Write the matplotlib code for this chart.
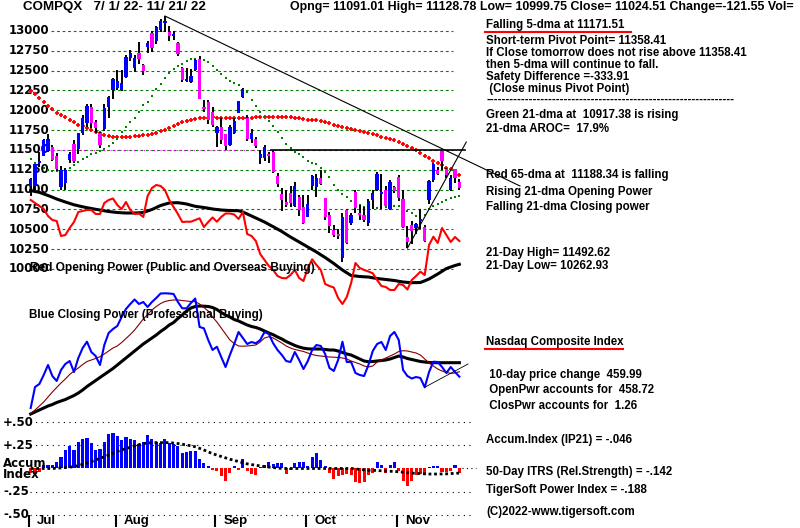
import numpy as np
import pandas as pd
import matplotlib
matplotlib.use('Agg')
import matplotlib.pyplot as plt
from matplotlib.lines import Line2D

W, H = 800, 528

# trading days 7/1/22 .. 11/21/22 (Jul 4 and Sep 5 closed)
days = pd.bdate_range('2022-07-01', '2022-11-21')
days = days[~days.isin(pd.to_datetime(['2022-07-04', '2022-09-05']))]

opens = [11050, 11040, 11335, 11430, 11490, 11540, 11420, 11030, 11080, 11375,
         11575, 11510, 11720, 11840, 12046, 11850, 11710, 11765, 12040, 12260,
         12280, 12250, 12424, 12656, 12530, 12727, 12570, 12800, 12970, 12880,
         13015, 13095, 12990, 12938, 12850, 12530, 12370, 12360, 12510, 12643,
         12045, 12108, 11983, 11720, 11793, 11700, 11560, 11720, 11965, 12170,
         11900, 11640, 11634, 11395, 11400, 11440, 11480, 11170, 10950, 10845,
         10952, 10800, 10910, 10785, 10660, 11040, 11030, 11143, 10890, 10680,
         10490, 10440, 10135, 10745, 10580, 10975, 10700, 10680, 10575, 10865,
         11000, 10950, 10996, 10750, 11030, 11160, 10887, 10405, 10555, 10512,
         10600, 10535, 10865, 11120, 11245, 11487, 11265, 11000, 11255, 11091.01]
highs = [11145, 11325, 11480, 11640, 11700, 11560, 11460, 11300, 11270, 11480,
         11620, 11720, 11935, 12080, 12085, 11880, 11730, 12080, 12180, 12410,
         12510, 12510, 12700, 12760, 12700, 12865, 12590, 12880, 13000, 13060,
         13150, 13185, 13060, 13000, 12860, 12540, 12530, 12520, 12650, 12690,
         12135, 12130, 12045, 11800, 11900, 11700, 11820, 11900, 12120, 12280,
         11940, 11760, 11660, 11500, 11560, 11470, 11500, 11210, 11025, 11000,
         11050, 11100, 10930, 10930, 10930, 11190, 11200, 11245, 10900, 10720,
         10560, 10500, 10700, 10760, 10700, 10995, 10810, 10780, 10880, 10990,
         11220, 11200, 11050, 11120, 11040, 11190, 10990, 10540, 10600, 10580,
         10750, 10560, 11120, 11330, 11290, 11492.62, 11270, 11180, 11260, 11128.78]
lows = [10925, 10985, 11280, 11420, 11470, 11355, 11230, 10990, 11000, 11330,
        11340, 11450, 11690, 11790, 11780, 11720, 11520, 11740, 11900, 12140,
        12250, 12240, 12410, 12620, 12480, 12590, 12450, 12720, 12730, 12840,
        12990, 12990, 12870, 12890, 12690, 12360, 12355, 12340, 12490, 12140,
        11985, 11830, 11795, 11540, 11580, 11495, 11550, 11700, 11960, 12150,
        11610, 11590, 11520, 11320, 11365, 11330, 11210, 11030, 10735, 10775,
        10780, 10780, 10670, 10570, 10650, 11000, 10910, 11060, 10620, 10450,
        10400, 10380, 10090, 10310, 10560, 10700, 10620, 10590, 10540, 10760,
        10980, 10760, 10790, 10740, 10960, 10860, 10520, 10262.93, 10320, 10440,
        10500, 10340, 10820, 11100, 11180, 11250, 11150, 10980, 11080, 10999.75]
closes = [11127.85, 11322.24, 11361.85, 11621.35, 11635.31, 11372.60, 11264.73, 11247.58, 11251.19, 11452.42,
          11360.05, 11713.15, 11897.65, 12059.61, 11834.11, 11782.67, 11562.58, 12032.42, 12162.59, 12390.69,
          12368.98, 12348.76, 12668.16, 12720.58, 12657.55, 12644.46, 12493.93, 12854.80, 12779.91, 13047.19,
          13128.05, 13102.55, 12938.12, 12965.34, 12705.22, 12381.57, 12381.30, 12431.53, 12639.27, 12141.71,
          12017.67, 11883.14, 11816.20, 11785.13, 11630.86, 11544.91, 11791.90, 11862.13, 12112.31, 12266.41,
          11633.57, 11719.68, 11552.36, 11448.40, 11535.02, 11425.05, 11220.19, 11066.81, 10867.93, 10802.92,
          10829.50, 11051.64, 10737.51, 10575.62, 10815.43, 11176.41, 11148.64, 11073.31, 10652.41, 10542.10,
          10426.19, 10417.10, 10649.15, 10321.39, 10675.80, 10772.40, 10680.51, 10614.84, 10859.72, 10952.61,
          11199.12, 10970.99, 10792.68, 11102.45, 10988.15, 10890.85, 10524.80, 10342.94, 10475.25, 10564.52,
          10616.20, 10353.17, 11114.15, 11323.33, 11196.22, 11358.41, 11183.66, 11144.96, 11146.06, 11024.51]

ma65 = [12245, 12205, 12160, 12110, 12060, 12015, 11972, 11940, 11910, 11878,
        11847, 11820, 11796, 11774, 11752, 11730, 11708, 11690, 11676, 11668,
        11664, 11663, 11664, 11667, 11670, 11676, 11683, 11692, 11702, 11716,
        11733, 11757, 11783, 11805, 11828, 11847, 11865, 11878, 11891, 11899,
        11906, 11908, 11910, 11906, 11903, 11900, 11897, 11897, 11897, 11900,
        11903, 11906, 11910, 11911, 11912, 11914, 11916, 11916, 11916, 11913,
        11910, 11903, 11897, 11890, 11884, 11878, 11872, 11860, 11847, 11834,
        11821, 11805, 11790, 11777, 11765, 11752, 11739, 11725, 11710, 11696,
        11683, 11667, 11651, 11635, 11620, 11598, 11575, 11550, 11525, 11494,
        11462, 11427, 11393, 11361, 11330, 11305, 11279, 11254, 11229, 11188]
ma21 = [11380, 11336, 11292, 11267, 11248, 11241, 11235, 11235, 11241, 11267,
        11311, 11352, 11380, 11412, 11443, 11468, 11487, 11512, 11550, 11588,
        11638, 11727, 11790, 11853, 11909, 11973, 12067, 12110, 12181, 12270,
        12330, 12410, 12470, 12520, 12555, 12590, 12620, 12643, 12650, 12650,
        12635, 12610, 12560, 12510, 12455, 12410, 12375, 12345, 12315, 12275,
        12230, 12125, 12050, 11975, 11915, 11865, 11800, 11730, 11650, 11575,
        11530, 11475, 11455, 11415, 11355, 11340, 11320, 11270, 11226, 11163,
        11059, 10996, 10950, 10911, 10861, 10832, 10806, 10787, 10775, 10769,
        10765, 10769, 10787, 10806, 10800, 10794, 10762, 10731, 10702, 10668,
        10668, 10680, 10756, 10794, 10815, 10848, 10869, 10891, 10907, 10917]

# opening power (own scale) and its moving average
open_pwr = [100, 97, 94, 91, 84, 80, 79, 64, 65, 72,
            78, 88, 89, 90, 90, 86, 86, 97, 100, 101.5,
            95, 91, 98, 90, 86, 86.5, 83, 104, 112, 115,
            114, 110, 100, 93, 86, 78, 78.3, 78.3, 80, 81.7,
            73, 78, 82.5, 78.3, 83, 86.5, 86.5, 85.5, 81, 88,
            66, 64, 59, 46, 40, 34, 30, 24, 22, 21.7,
            25, 30, 22, 19, 32, 40.7, 35, 30, 16, 14,
            12.5, 2, -4, 3, 17, 37, 32, 30, 28.5, 26.7,
            20, 14, 13, 10, 10, 16, 15, 10.5, 20, 24,
            28.3, 25, 55, 63.3, 57, 72, 65, 58, 63, 59]
open_pwr_ma = [109.5, 108.5, 107.7, 106, 104.5, 102.8, 101, 99.5, 98, 96.6,
               95.2, 94.2, 93.2, 92.3, 91.5, 90.7, 90, 89.2, 88.5, 88,
               87.5, 87.2, 87, 87, 87, 87.2, 87.5, 89, 90.5, 92.5,
               94.5, 95.8, 97, 97.2, 97.3, 96.7, 96, 94.8, 93.7, 93.1,
               92.5, 91.8, 91, 90.5, 90, 89.7, 89.5, 89.4, 89.3, 88,
               86, 84, 82, 80, 78, 75.6, 73.3, 70.9, 68.5, 65.7,
               63, 60.5, 58, 55.5, 53, 50.5, 48, 45.2, 42.5, 39.5,
               36.5, 33.2, 30, 27.2, 24.5, 24, 23.5, 23.2, 23, 22.2,
               21.5, 21, 20.5, 20, 19.5, 18.7, 18, 17.6, 17.3, 17.4,
               17.5, 19.2, 21, 23.5, 26, 28.7, 31.5, 33, 34.5, 35.7]

# closing power (own scale) and two moving averages
clos_pwr = [12, 33, 36, 45, 55, 44, 39, 50, 56, 59,
            48, 62, 72, 78.3, 68, 64, 55, 75, 87, 91,
            94, 103, 111, 116, 120.5, 116, 118, 113, 118, 122,
            126.5, 126.7, 126.5, 126, 118, 111.7, 111.7, 117, 121.5, 93,
            91.7, 80, 70, 73.3, 63, 53, 65, 76, 88, 82,
            76, 78, 76.7, 80, 88, 86, 76.7, 70, 65, 59,
            58, 68, 60, 51, 59, 70, 75, 74, 66, 52,
            49, 60, 78.3, 58, 58, 47, 45, 44, 55, 69,
            76, 78, 70, 84, 88, 80, 50, 44, 41.5, 43,
            42, 32.7, 48, 58.3, 58, 53, 47, 53, 48, 43.3]
clos_pwr_fast = [6.7, 10, 14, 18, 23, 28, 32.5, 37, 41, 45.5,
                 49, 52, 55.5, 58.5, 60, 61.5, 63.3, 66, 69, 72,
                 74, 77.5, 81.5, 85.5, 90, 95.5, 101, 105.5, 110, 113.5,
                 116.5, 118.5, 119.5, 120, 120, 119.5, 119, 118.5, 118.3, 116,
                 112.5, 109, 103, 98, 92, 86, 80, 76.5, 74, 73.8,
                 74, 74.5, 75, 78, 82, 83.3, 82, 79.5, 77, 74,
                 72, 70.5, 69.5, 68.5, 67, 65.5, 64.5, 64, 63.5, 63,
                 62.8, 62.5, 62, 61, 59, 57.5, 56, 54, 53, 54,
                 58, 60, 62, 64, 66, 68.5, 69.3, 69, 68, 67,
                 65, 61, 57, 54, 51, 49, 47.5, 46.7, 47, 48.3]
clos_pwr_slow = [6, 8, 10, 12, 14, 15.5, 17.5, 19, 20.5, 22.5,
                 24.5, 27, 30, 33.5, 36.5, 39.5, 42.5, 45.5, 48.5, 51.5,
                 55, 58.5, 62, 65.5, 69, 72.5, 76, 79, 82, 85,
                 88.5, 91.5, 95, 97.5, 101.5, 105, 109, 112, 113.5, 114,
                 113.8, 113.5, 112.5, 110.5, 107.5, 105, 103, 100.5, 99, 97,
                 95, 93.5, 92.5, 91, 89, 87, 85.3, 83, 81, 78.5,
                 76.5, 74.5, 73, 71.8, 71.2, 71, 71, 71, 70.5, 70,
                 70, 69, 67.5, 66, 65, 63, 61, 59, 58.3, 58.5,
                 59, 59.5, 60, 61, 62.5, 64, 63, 61.5, 60.5, 59.5,
                 58.5, 58, 57.5, 57.3, 57.3, 57.3, 57.3, 57.3, 57.3, 57.3]

accum = [-0.05, -0.06, -0.04, 0.04, 0.04, 0.04, 0.075, 0.12, 0.2, 0.245,
         0.2, 0.29, 0.32, 0.33, 0.275, 0.2, 0.21, 0.29, 0.375, 0.38,
         0.35, 0.31, 0.34, 0.32, 0.31, 0.26, 0.29, 0.36, 0.32, 0.29,
         0.28, 0.32, 0.275, 0.26, 0.24, 0.165, 0.18, 0.185, 0.185, 0.1,
         0.055, 0.03, -0.02, -0.025, -0.085, -0.13, -0.05, 0.025, -0.02, 0.1,
         -0.025, -0.055, -0.075, 0.02, 0.035, 0.065, 0.045, 0.055, 0.06, -0.055,
         -0.02, 0.055, 0.065, 0.075, 0.03, 0.12, 0.165, 0.09, 0.025, -0.05,
         -0.11, -0.085, -0.075, -0.065, -0.075, -0.15, -0.16, -0.15, -0.075, -0.05,
         0.065, 0.04, -0.05, 0.04, 0.065, -0.025, -0.13, -0.185, -0.13, -0.075,
         -0.065, -0.075, 0.02, 0.025, 0.025, -0.04, -0.04, -0.025, 0.035, -0.046]
accum_ma = [0, 0, 0, 0, 0, 0, 0.003, 0.006, 0.01, 0.015,
            0.02, 0.032, 0.045, 0.06, 0.075, 0.092, 0.11, 0.127, 0.145, 0.165,
            0.185, 0.2, 0.215, 0.23, 0.245, 0.258, 0.27, 0.275, 0.28, 0.28,
            0.28, 0.28, 0.28, 0.275, 0.27, 0.262, 0.255, 0.245, 0.235, 0.218,
            0.2, 0.18, 0.16, 0.145, 0.13, 0.115, 0.1, 0.088, 0.075, 0.062,
            0.05, 0.042, 0.035, 0.028, 0.02, 0.015, 0.01, 0.005, 0, 0,
            0, 0, 0, 0, 0, 0, 0, 0, 0, 0,
            0, 0, 0, 0, 0, -0.005, -0.01, -0.015, -0.02, -0.02,
            -0.022, -0.025, -0.027, -0.03, -0.032, -0.035, -0.04, -0.045, -0.05, -0.053,
            -0.055, -0.058, -0.06, -0.06, -0.06, -0.059, -0.058, -0.055, -0.052, -0.05]

price_levels = list(range(10000, 13001, 250))
accum_levels = [0.5, 0.25, -0.25, -0.5]
accum_labels = ['+.50', '+.25', '-.25', '-.50']
month_names = ['Jul', 'Aug', 'Sep', 'Oct', 'Nov']

# trend lines: (day index, value)
down_line = ([31, 113], [13189, 11046])
up_line = ([87, 100.6], [10263, 11600])
resist = 11500
cp_up_line = ([91, 101], [32.7, 56])

plt.rcParams['font.family'] = ['Liberation Sans', 'DejaVu Sans']
plt.rcParams['font.weight'] = 'bold'

BLUE = '#0000ff'
MAG = '#ff00ff'
RED = '#ff0000'
GREEN = '#008000'

fig = plt.figure(figsize=(W / 100, H / 100), dpi=100)
fig.patch.set_facecolor('white')


def rect(top, bottom):
    return [0, 1 - bottom / H, 1, (bottom - top) / H]


def ftext(x, y, s, **kw):
    kw.setdefault('fontsize', 8.3)
    fig.text(x / W, 1 - y / H, s, va='center', ha=kw.pop('ha', 'left'), **kw)


x = np.arange(len(days))
xlim = (-30.7 / 4.33, (W - 30.7) / 4.33)

# ---- price panel
ax = fig.add_axes(rect(10, 310))
ax.set_xlim(*xlim)
ax.set_ylim(9482.6, 13264.7)
ax.axis('off')

for lv in price_levels:
    ax.axhline(lv, xmin=51 / W, xmax=453 / W, color=GREEN, lw=0.8, ls=(0, (2.5, 2.5)), zorder=1)
    ax.text(49 / W, lv, str(lv), transform=ax.get_yaxis_transform(), ha='right', va='center',
            fontsize=8.5, family='DejaVu Sans', weight='bold', zorder=2)

o = np.array(opens)
c = np.array(closes)
ax.vlines(x, lows, highs, color='black', lw=1.4, zorder=4)
body_lo = np.minimum(o, c)
body_h = np.maximum(np.abs(c - o), 25)
ax.bar(x, body_h, bottom=body_lo, width=0.75, color=np.where(c >= o, BLUE, MAG), zorder=5)

ax.plot(x, ma65, ls='none', marker='+', ms=2.8, mew=1.3, color=RED, zorder=3)
ax.plot(x, ma21, ls='none', marker='s', ms=2.0, mew=0, color=GREEN, zorder=3)

ax.plot([2.2, 55.6], [resist, resist], color=MAG, lw=0.8, ls=(0, (1, 2)), zorder=2)
ax.plot([55.6, 100.3], [resist, resist], color='black', lw=1.2, zorder=6)
ax.plot(*down_line, color='black', lw=0.8, zorder=6, clip_on=False)
ax.plot(*up_line, color='black', lw=0.8, zorder=6)

ax_op = fig.add_axes(rect(10, 310))
ax_op.set_xlim(*xlim)
ax_op.set_ylim(-10, 290)
ax_op.axis('off')
ax_op.plot(x, open_pwr_ma, color='black', lw=2.2)
ax_op.plot(x, open_pwr, color=RED, lw=1.5)

# ---- closing power panel
ax_cp = fig.add_axes(rect(285, 420))
ax_cp.set_xlim(*xlim)
ax_cp.set_ylim(0, 135)
ax_cp.axis('off')
ax_cp.plot(x, clos_pwr_slow, color='black', lw=2.2)
ax_cp.plot(x, clos_pwr_fast, color='#800000', lw=0.8)
ax_cp.plot(x, clos_pwr, color=BLUE, lw=1.5)
ax_cp.plot(*cp_up_line, color='black', lw=0.6)

# ---- accumulation index panel
ax_ac = fig.add_axes(rect(410, 528))
ax_ac.set_xlim(*xlim)
ax_ac.set_ylim(-0.644, 0.633)
ax_ac.axis('off')
for lv, lab in zip(accum_levels, accum_labels):
    ax_ac.axhline(lv, xmin=30 / W, xmax=472 / W, color='black', lw=0.8, ls=(0, (1, 4)))
    ax_ac.text(3 / W, lv, lab, transform=ax_ac.get_yaxis_transform(), ha='left', va='center',
               fontsize=8.5, family='DejaVu Sans', weight='bold')
ax_ac.axhline(0, xmin=462 / W, xmax=476 / W, color='black', lw=0.8, ls=(0, (1, 3)))
ax_ac.text(3 / W, 0.056, 'Accum', transform=ax_ac.get_yaxis_transform(), ha='left', va='center',
           fontsize=8.5, family='DejaVu Sans', weight='bold')
ax_ac.text(3 / W, -0.07, 'Index', transform=ax_ac.get_yaxis_transform(), ha='left', va='center',
           fontsize=8.5, family='DejaVu Sans', weight='bold')
acc = np.array(accum)
ax_ac.bar(x, acc, width=0.72, color=np.where(acc >= 0, BLUE, RED), zorder=2)
ax_ac.plot(x, accum_ma, color='black', lw=2.0, ls=(0, (1, 1)), zorder=3)

month_start = [i for i in range(len(days)) if i == 0 or days[i].month != days[i - 1].month]
for m, name in zip(month_start, month_names):
    ax_ac.vlines(m - 0.4, -0.633, -0.503, color='black', lw=1.5)
    ax_ac.text(m + 1.5, -0.568, name, ha='left', va='center', fontsize=9.5)

# ---- texts
ftext(23, 7, 'COMPQX   7/ 1/ 22- 11/ 21/ 22', fontsize=9.6)
ftext(290, 7, 'Opng= 11091.01 High= 11128.78 Low= 10999.75 Close= 11024.51 Change=-121.55 Vol=',
      fontsize=8.9)

ftext(30, 268.5, 'Red Opening Power (Public and Overseas Buying)', fontsize=8.6, zorder=10)
ftext(29, 315, 'Blue Closing Power (Professional Buying)', fontsize=8.4, zorder=10)

right_texts = [
    ('Falling 5-dma at 11171.51', 25),
    ('Short-term Pivot Point= 11358.41', 41.5),
    ('If Close tomorrow does not rise above 11358.41', 53),
    ('then 5-dma will continue to fall.', 64.5),
    ('Safety Difference =-333.91', 77),
    (' (Close minus Pivot Point)', 89),
    ('-' * 64, 100),
    ('Green 21-dma at  10917.38 is rising', 115),
    ('21-dma AROC=  17.9%', 129),
    ('Red 65-dma at  11188.34 is falling', 175),
    ('Rising 21-dma Opening Power', 191.5),
    ('Falling 21-dma Closing power', 207),
    ('21-Day High= 11492.62', 253),
    ('21-Day Low= 10262.93', 266),
    ('Nasdaq Composite Index', 342),
    (' 10-day price change  459.99', 375),
    (' OpenPwr accounts for  458.72', 390),
    (' ClosPwr accounts for  1.26', 406),
    ('Accum.Index (IP21) = -.046', 440),
    ('50-Day ITRS (Rel.Strength) = -.142', 472),
    ('TigerSoft Power Index = -.188', 490),
    ('(C)2022-www.tigersoft.com', 512),
]
for s, yy in right_texts:
    ftext(486, yy, s)

fig.add_artist(Line2D([485 / W, 631 / W], [1 - 32 / H, 1 - 32 / H], color=RED, lw=1.5))
fig.add_artist(Line2D([485 / W, 623 / W], [1 - 349 / H, 1 - 349 / H], color=RED, lw=1.5))

fig.savefig('out.png', dpi=100)
